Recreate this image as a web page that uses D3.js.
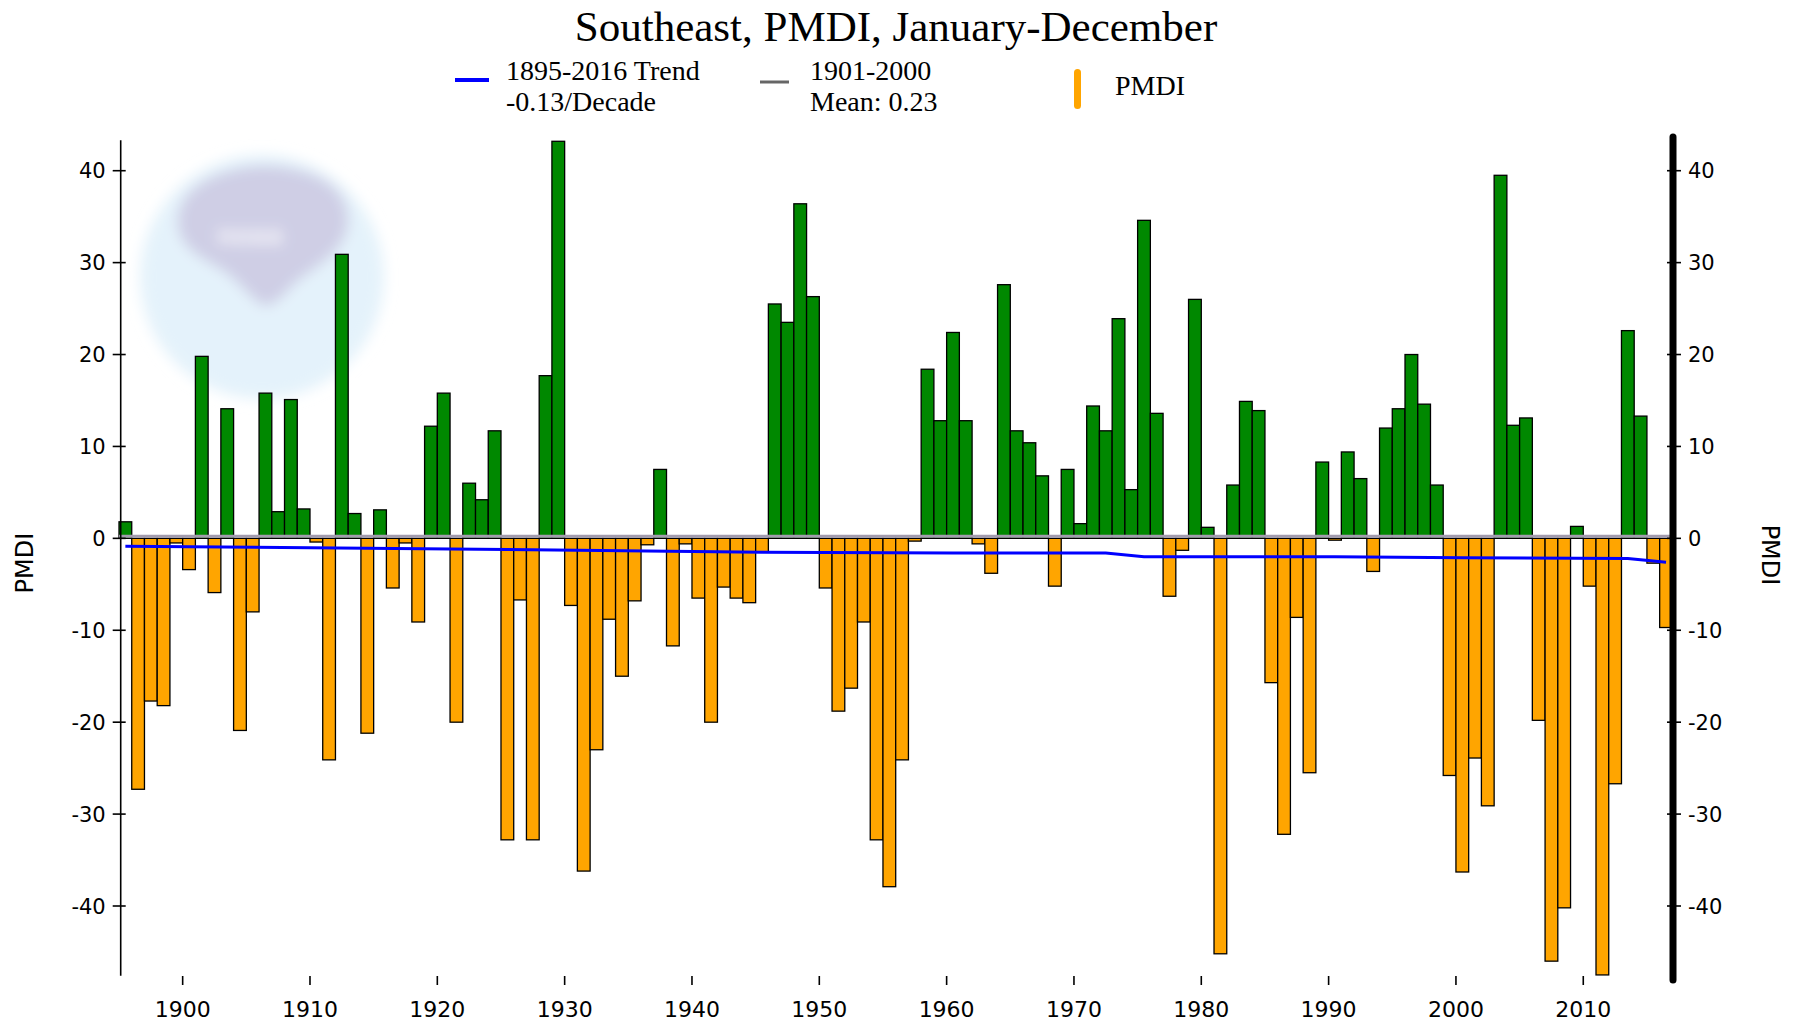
<!DOCTYPE html>
<html>
<head>
<meta charset="utf-8">
<script src="https://cdn.jsdelivr.net/npm/d3@7"></script>
<style>
body { margin: 0; background: #fff; }
svg { display: block; }
</style>
</head>
<body>
<div id="container"></div>
<script>
"use strict";

const width = 1793;
const height = 1026;

// yearly PMDI values, 1895..2016
const firstYear = 1895;
const pmdi = [
    1.8, -27.3, -17.7, -18.2, -0.5, -3.4, 19.8, -5.9, 14.1, -20.9,      // 1895-1904
    -8.0, 15.8, 2.9, 15.1, 3.2, -0.4, -24.1, 30.9, 2.7, -21.2,          // 1905-1914
    3.1, -5.4, -0.5, -9.1, 12.2, 15.8, -20.0, 6.0, 4.2, 11.7,           // 1915-1924
    -32.8, -6.7, -32.8, 17.7, 43.2, -7.3, -36.2, -23.0, -8.8, -15.0,    // 1925-1934
    -6.8, -0.7, 7.5, -11.7, -0.6, -6.5, -20.0, -5.3, -6.5, -7.0,        // 1935-1944
    -1.5, 25.5, 23.5, 36.4, 26.3, -5.4, -18.8, -16.3, -9.1, -32.8,      // 1945-1954
    -37.9, -24.1, -0.3, 18.4, 12.8, 22.4, 12.8, -0.6, -3.8, 27.6,       // 1955-1964
    11.7, 10.4, 6.8, -5.2, 7.5, 1.6, 14.4, 11.7, 23.9, 5.3,             // 1965-1974
    34.6, 13.6, -6.3, -1.3, 26.0, 1.2, -45.2, 5.8, 14.9, 13.9,          // 1975-1984
    -15.7, -32.2, -8.6, -25.5, 8.3, -0.2, 9.4, 6.5, -3.6, 12.0,         // 1985-1994
    14.1, 20.0, 14.6, 5.8, -25.8, -36.3, -23.9, -29.1, 39.5, 12.3,      // 1995-2004
    13.1, -19.8, -46.0, -40.2, 1.3, -5.2, -47.5, -26.7, 22.6, 13.3,     // 2005-2014
    -2.7, -9.7                                                          // 2015-2016
];
const years = pmdi.map((v, i) => firstYear + i);

// trend line as drawn
const trendYears  = [1895, 1925, 1945, 1960, 1972, 1975, 1990, 2000, 2013, 2016];
const trendValues = [-0.85, -1.2, -1.5, -1.6, -1.6, -2.0, -2.0, -2.1, -2.2, -2.6];

const meanValue = 0.23;

const xTickYears = [1900, 1910, 1920, 1930, 1940, 1950, 1960, 1970, 1980, 1990, 2000, 2010];
const yTickValues = [-40, -30, -20, -10, 0, 10, 20, 30, 40];

const titleText = "Southeast, PMDI, January-December";
const trendLegend = ["1895-2016 Trend", "-0.13/Decade"];
const meanLegend = ["1901-2000", "Mean: 0.23"];
const barLegend = "PMDI";
const axisLabel = "PMDI";

// scales
const x = d3.scaleLinear().domain([1895, 2017]).range([119, 1672.4]);
const y = d3.scaleLinear().domain([-40, 40]).range([906, 170.7]);
const yTopValue = 43.3, yBottomValue = -47.6;

const svg = d3.select("#container").append("svg")
    .attr("width", width)
    .attr("height", height)
    .style("font-family", "'DejaVu Sans', sans-serif");

// blur for the watermark
svg.append("defs").append("filter")
    .attr("id", "soft")
    .attr("x", "-20%").attr("y", "-20%").attr("width", "140%").attr("height", "140%")
    .append("feGaussianBlur").attr("stdDeviation", 7);

// faint NOAA logo watermark
const logo = svg.append("g").attr("filter", "url(#soft)");
logo.append("circle")
    .attr("cx", 262).attr("cy", 277).attr("r", 122)
    .attr("fill", "#dff0fa")
    .attr("opacity", 0.85);
logo.append("path")
    .attr("d", "M178,222 C178,178 240,165 268,166 C305,167 350,182 348,222 C346,255 310,268 290,288 C282,298 272,306 264,306 C252,300 240,282 222,270 C198,256 178,246 178,222 Z")
    .attr("fill", "#cbc6e0")
    .attr("opacity", 0.8);
logo.append("text")
    .attr("x", 250).attr("y", 244)
    .attr("text-anchor", "middle")
    .attr("fill", "#ffffff")
    .attr("opacity", 0.8)
    .style("font-size", "24px")
    .style("font-weight", "bold")
    .text("noaa");

// bars
svg.append("g").selectAll("rect")
    .data(years)
    .enter()
    .append("rect")
    .attr("x", d => x(d))
    .attr("width", d => x(d + 1) - x(d))
    .attr("y", (d, i) => pmdi[i] >= 0 ? y(pmdi[i]) : y(0))
    .attr("height", (d, i) => Math.abs(y(pmdi[i]) - y(0)))
    .attr("fill", (d, i) => pmdi[i] >= 0 ? "#008800" : "#ffa500")
    .attr("stroke", "#000")
    .attr("stroke-width", 1.3);

// 1901-2000 mean line
svg.append("line")
    .attr("x1", x(1895)).attr("x2", x(2017))
    .attr("y1", y(meanValue)).attr("y2", y(meanValue))
    .attr("stroke", "#a39cae")
    .attr("stroke-width", 3);

// trend line
svg.append("path")
    .datum(trendYears.map((t, i) => [t + 0.5, trendValues[i]]))
    .attr("d", d3.line().x(d => x(d[0])).y(d => y(d[1])))
    .attr("fill", "none")
    .attr("stroke", "#0000ff")
    .attr("stroke-width", 3);

// left axis
const leftX = 120.7;
svg.append("line")
    .attr("x1", leftX).attr("x2", leftX)
    .attr("y1", y(yTopValue)).attr("y2", y(yBottomValue))
    .attr("stroke", "#000").attr("stroke-width", 1.6);
const leftTicks = svg.append("g").selectAll("g")
    .data(yTickValues).enter().append("g");
leftTicks.append("line")
    .attr("x1", leftX - 8).attr("x2", leftX + 5)
    .attr("y1", d => y(d)).attr("y2", d => y(d))
    .attr("stroke", "#000").attr("stroke-width", 1.6);
leftTicks.append("text")
    .attr("x", leftX - 15)
    .attr("y", d => y(d))
    .attr("dy", "0.36em")
    .attr("text-anchor", "end")
    .style("font-size", "21px")
    .text(d => d);

// right axis (heavy)
const rightX = 1673;
svg.append("line")
    .attr("x1", rightX).attr("x2", rightX)
    .attr("y1", 137).attr("y2", 980)
    .attr("stroke", "#000").attr("stroke-width", 7)
    .attr("stroke-linecap", "round");
const rightTicks = svg.append("g").selectAll("g")
    .data(yTickValues).enter().append("g");
rightTicks.append("line")
    .attr("x1", rightX - 6).attr("x2", rightX + 8)
    .attr("y1", d => y(d)).attr("y2", d => y(d))
    .attr("stroke", "#000").attr("stroke-width", 1.6);
rightTicks.append("text")
    .attr("x", rightX + 15)
    .attr("y", d => y(d))
    .attr("dy", "0.36em")
    .attr("text-anchor", "start")
    .style("font-size", "21px")
    .text(d => d);

// bottom ticks and year labels
const bottomTicks = svg.append("g").selectAll("g")
    .data(xTickYears).enter().append("g");
bottomTicks.append("line")
    .attr("x1", d => x(d)).attr("x2", d => x(d))
    .attr("y1", 976).attr("y2", 985)
    .attr("stroke", "#000").attr("stroke-width", 1.6);
bottomTicks.append("text")
    .attr("x", d => x(d))
    .attr("y", 1017)
    .attr("text-anchor", "middle")
    .style("font-size", "22px")
    .text(d => d);

// axis titles
svg.append("text")
    .attr("transform", "translate(33,563) rotate(-90)")
    .attr("text-anchor", "middle")
    .style("font-size", "24px")
    .text(axisLabel);
svg.append("text")
    .attr("transform", "translate(1762,555) rotate(90)")
    .attr("text-anchor", "middle")
    .style("font-size", "24px")
    .text(axisLabel);

// title
const serif = "'Liberation Serif', 'Times New Roman', serif";
svg.append("text")
    .attr("x", 896)
    .attr("y", 41)
    .attr("text-anchor", "middle")
    .style("font-family", serif)
    .style("font-size", "43px")
    .text(titleText);

// legend
const legend = svg.append("g").style("font-family", serif).style("font-size", "28px");
legend.append("line")
    .attr("x1", 455).attr("x2", 489).attr("y1", 80).attr("y2", 80)
    .attr("stroke", "#0000ff").attr("stroke-width", 4);
legend.selectAll(".trendtxt")
    .data(trendLegend).enter().append("text")
    .attr("x", 506)
    .attr("y", (d, i) => 80 + i * 31)
    .text(d => d);

legend.append("line")
    .attr("x1", 760).attr("x2", 789).attr("y1", 82).attr("y2", 82)
    .attr("stroke", "#666").attr("stroke-width", 3);
legend.selectAll(".meantxt")
    .data(meanLegend).enter().append("text")
    .attr("x", 810)
    .attr("y", (d, i) => 80 + i * 31)
    .text(d => d);

legend.append("rect")
    .attr("x", 1074).attr("y", 69).attr("width", 7).attr("height", 40)
    .attr("rx", 3.5)
    .attr("fill", "#ffa500");
legend.append("text")
    .attr("x", 1115)
    .attr("y", 95)
    .text(barLegend);
</script>
</body>
</html>
